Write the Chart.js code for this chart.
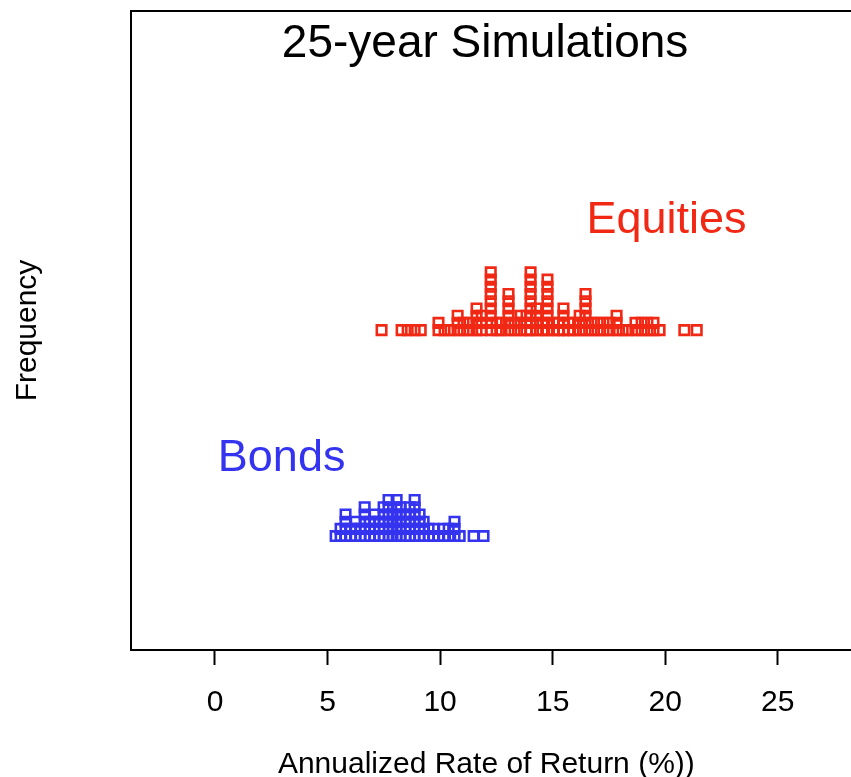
<!DOCTYPE html>
<html>
<head>
<meta charset="utf-8">
<script src="https://cdn.jsdelivr.net/npm/chart.js@4.4.1/dist/chart.umd.min.js"></script>
<style>
  html, body { margin: 0; padding: 0; background: #ffffff; overflow: hidden; }
  #wrap { width: 851px; height: 777px; }
</style>
</head>
<body>
<div id="wrap"><canvas id="c" width="851" height="777"></canvas></div>
<script>
// ---- data ----
const groupNames = ['Bonds', 'Equities'];
const chartTitle = '25-year Simulations';
const xAxisTitle = 'Annualized Rate of Return (%))';
const yAxisTitle = 'Frequency';
const xTickValues = [0, 5, 10, 15, 20, 25];

// Equities: distinct simulated returns (%) and how many simulations share each value
const equityReturns = [7.40, 8.29, 8.56, 8.87, 9.14, 9.93, 10.20, 10.47, 10.78, 11.04,
  11.31, 11.62, 11.85, 12.25, 12.51, 12.73, 13.04, 13.31, 13.58, 13.84,
  14.02, 14.29, 14.55, 14.77, 15.04, 15.26, 15.48, 15.71, 15.93, 16.20,
  16.46, 16.73, 17.00, 17.26, 17.53, 17.84, 18.11, 18.37, 18.68, 18.95,
  19.21, 19.48, 19.75, 20.85, 21.40];
const equityCounts = [1, 1, 1, 1, 1, 2, 1, 1, 3, 2,
  2, 4, 3, 9, 2, 2, 6, 2, 3, 3,
  9, 4, 2, 8, 2, 2, 4, 2, 2, 3,
  6, 2, 2, 2, 2, 3, 1, 1, 2, 2,
  2, 2, 1, 1, 1];

// Bonds
const bondReturns = [5.36, 5.58, 5.80, 6.03, 6.25, 6.47, 6.65, 6.87, 7.09, 7.31,
  7.49, 7.71, 7.89, 8.07, 8.25, 8.47, 8.65, 8.87, 9.09, 9.27,
  9.49, 9.71, 9.93, 10.16, 10.38, 10.64, 10.87, 11.49, 11.93];
const bondCounts = [1, 2, 4, 2, 3, 2, 5, 3, 4, 3,
  5, 6, 4, 6, 5, 4, 5, 6, 4, 3,
  2, 2, 1, 2, 2, 3, 1, 1, 1];

// ---- layout / style constants ----
const STACK = 0.035;          // vertical offset between stacked points (group units)
const GROUP_POS = { Bonds: 1, Equities: 2 };
const RED = '#f02814';
const BLUE = '#3434f0';
const FONT = '"Liberation Sans", Arial, Helvetica, sans-serif';

function stackPoints(values, counts, base) {
  const pts = [];
  values.forEach((v, i) => {
    for (let k = 0; k < counts[i]; k++) pts.push({ x: v, y: base + k * STACK });
  });
  return pts;
}

// annotation anchors in data coordinates
const annotations = [
  { text: chartTitle, x: 12.0, y: 3.386, color: '#000000', size: 46 },
  { text: groupNames[1], x: 20.06, y: 2.53, color: RED, size: 45 },
  { text: groupNames[0], x: 2.96, y: 1.378, color: BLUE, size: 45 }
];

const framePlugin = {
  id: 'frameAndText',
  afterDraw(chart) {
    const { ctx, chartArea: a, scales } = chart;
    const W = chart.width + 10;
    ctx.save();
    ctx.strokeStyle = '#000000';
    ctx.lineWidth = 2;
    ctx.beginPath();
    ctx.moveTo(a.left, a.bottom);
    ctx.lineTo(a.left, a.top);
    ctx.lineTo(W, a.top);
    ctx.moveTo(a.left - 1, a.bottom);
    ctx.lineTo(W, a.bottom);
    ctx.stroke();

    ctx.textAlign = 'center';
    ctx.textBaseline = 'middle';
    annotations.forEach(t => {
      ctx.fillStyle = t.color;
      ctx.font = t.size + 'px ' + FONT;
      ctx.fillText(t.text, scales.x.getPixelForValue(t.x), scales.y.getPixelForValue(t.y));
    });

    ctx.translate(28, (a.top + a.bottom) / 2);
    ctx.rotate(-Math.PI / 2);
    ctx.fillStyle = '#000000';
    ctx.font = '30px ' + FONT;
    ctx.fillText(yAxisTitle, 0, 0);
    ctx.restore();
  }
};

new Chart(document.getElementById('c'), {
  type: 'scatter',
  data: {
    datasets: [
      {
        label: groupNames[1],
        data: stackPoints(equityReturns, equityCounts, GROUP_POS.Equities),
        pointStyle: 'rect',
        pointRadius: 6.7,
        pointBorderWidth: 2.6,
        borderColor: RED,
        backgroundColor: 'rgba(0,0,0,0)'
      },
      {
        label: groupNames[0],
        data: stackPoints(bondReturns, bondCounts, GROUP_POS.Bonds),
        pointStyle: 'rect',
        pointRadius: 6.7,
        pointBorderWidth: 2.6,
        borderColor: BLUE,
        backgroundColor: 'rgba(0,0,0,0)'
      }
    ]
  },
  options: {
    responsive: false,
    devicePixelRatio: 1,
    animation: false,
    layout: { padding: { left: 131, top: 11, right: 0, bottom: -3 } },
    plugins: { legend: { display: false }, tooltip: { enabled: false }, title: { display: false } },
    scales: {
      x: {
        type: 'linear',
        min: -3.73,
        max: 27.84,
        afterBuildTicks(scale) { scale.ticks = xTickValues.map(v => ({ value: v })); },
        grid: { drawOnChartArea: false, drawTicks: true, tickLength: 15, tickWidth: 2, tickColor: '#000000' },
        border: { display: false },
        ticks: { color: '#000000', font: { family: FONT, size: 30 }, padding: 20, maxRotation: 0, autoSkip: false },
        title: {
          display: true,
          text: xAxisTitle,
          color: '#000000',
          font: { family: FONT, size: 30, lineHeight: 1.0 },
          padding: { top: 9, bottom: 0 }
        }
      },
      y: {
        type: 'linear',
        display: false,
        min: 0.447,
        max: 3.549
      }
    }
  },
  plugins: [framePlugin]
});
</script>
</body>
</html>
